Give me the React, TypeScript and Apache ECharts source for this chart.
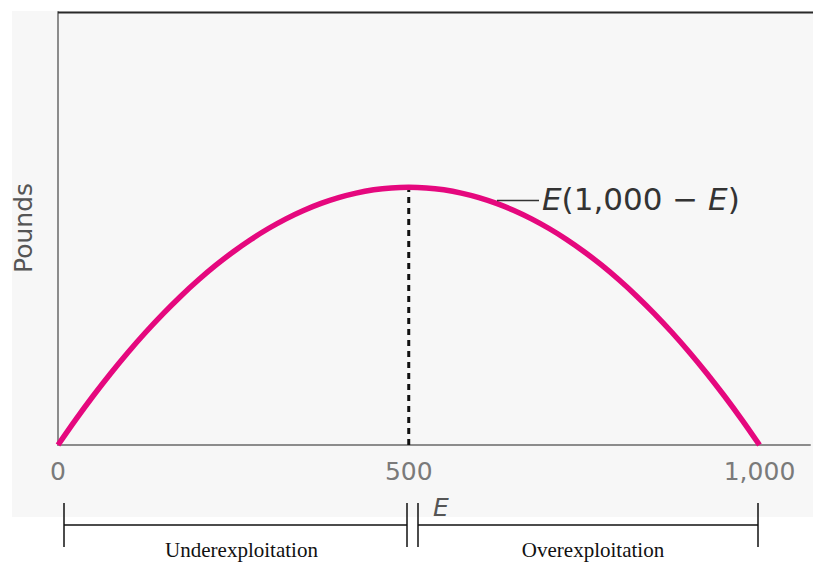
import React, { useEffect, useRef } from "react";
import * as echarts from "echarts";

const effortValues = [0, 25, 50, 75, 100, 125, 150, 175, 200, 225, 250, 275, 300, 325, 350, 375, 400, 425, 450, 475, 500, 525, 550, 575, 600, 625, 650, 675, 700, 725, 750, 775, 800, 825, 850, 875, 900, 925, 950, 975, 1000];
const poundsValues = [0, 24375, 47500, 69375, 90000, 109375, 127500, 144375, 160000, 174375, 187500, 199375, 210000, 219375, 227500, 234375, 240000, 244375, 247500, 249375, 250000, 249375, 247500, 244375, 240000, 234375, 227500, 219375, 210000, 199375, 187500, 174375, 160000, 144375, 127500, 109375, 90000, 69375, 47500, 24375, 0];
const peakEffort = 500;
const peakPounds = 250000;
const tickValues = [0, 500, 1000];
const tickLabels = ["0", "500", "1,000"];
const curveLabel = "{i|E}(1,000 \u2212 {i|E})";
const yAxisTitle = "Pounds";
const xAxisTitle = "E";
const leftBracketText = "Underexploitation";
const rightBracketText = "Overexploitation";

export default function App() {
  const ref = useRef<HTMLDivElement>(null);
  useEffect(() => {
    if (!ref.current) return;
    const chart = echarts.init(ref.current, null, { renderer: "svg" });
    const curve = effortValues.map((e, i) => [e, poundsValues[i]]);
    const black = "#111";
    const option: any = {
      animation: false,
      backgroundColor: "#ffffff",
      grid: { left: 58, top: 12, right: 0, bottom: 117, containLabel: false },
      xAxis: {
        type: "value",
        min: 0,
        max: 1072,
        interval: 500,
        axisLine: { show: true, lineStyle: { color: "#8c8c8c", width: 2 } },
        axisTick: { show: false },
        splitLine: { show: false },
        axisLabel: {
          margin: 14,
          fontSize: 25,
          fontFamily: "DejaVu Sans",
          color: "#7a7a7a",
          formatter: (v: number) => {
            const idx = tickValues.indexOf(v);
            return idx >= 0 ? tickLabels[idx] : "";
          },
        },
      },
      yAxis: {
        type: "value",
        min: 0,
        max: 420000,
        axisLine: { show: true, lineStyle: { color: "#8c8c8c", width: 2 } },
        axisTick: { show: false },
        splitLine: { show: false },
        axisLabel: { show: false },
      },
      series: [
        {
          type: "line",
          data: [[peakEffort, 0], [peakEffort, peakPounds]],
          showSymbol: false,
          lineStyle: { color: black, width: 3, type: [6, 5] },
          z: 1,
        },
        {
          type: "line",
          data: curve,
          smooth: 0.3,
          showSymbol: false,
          lineStyle: { color: "#e5087e", width: 5.5 },
          z: 3,
        },
      ],
      graphic: [
        {
          type: "rect",
          z: -100,
          silent: true,
          shape: { x: 12, y: 11, width: 801, height: 506 },
          style: { fill: "#f7f7f7" },
        },
        {
          type: "line",
          z: 10,
          shape: { x1: 58, y1: 12.5, x2: 813, y2: 12.5 },
          style: { stroke: "#2a2a2a", lineWidth: 2 },
        },
        {
          type: "line",
          z: 10,
          shape: { x1: 497, y1: 200.5, x2: 539, y2: 200.5 },
          style: { stroke: "#333", lineWidth: 1.5 },
        },
        {
          type: "text",
          z: 10,
          x: 542,
          y: 199,
          style: {
            text: curveLabel,
            fontFamily: "DejaVu Sans",
            fontSize: 31,
            fill: "#333",
            align: "left",
            verticalAlign: "middle",
            rich: {
              i: { fontStyle: "italic", fontFamily: "DejaVu Sans", fontSize: 31, fill: "#333" },
            },
          },
        },
        {
          type: "text",
          z: 10,
          x: 23,
          y: 228,
          rotation: Math.PI / 2,
          style: {
            text: yAxisTitle,
            fontFamily: "DejaVu Sans",
            fontSize: 25,
            fill: "#555",
            align: "center",
            verticalAlign: "middle",
          },
        },
        {
          type: "text",
          z: 10,
          x: 441,
          y: 507,
          style: {
            text: xAxisTitle,
            fontFamily: "DejaVu Sans",
            fontStyle: "italic",
            fontSize: 25,
            fill: "#555",
            align: "center",
            verticalAlign: "middle",
          },
        },
        // brackets
        { type: "line", z: 10, shape: { x1: 64, y1: 503, x2: 64, y2: 547 }, style: { stroke: black, lineWidth: 1.5 } },
        { type: "line", z: 10, shape: { x1: 64, y1: 525, x2: 407, y2: 525 }, style: { stroke: black, lineWidth: 1.5 } },
        { type: "line", z: 10, shape: { x1: 407, y1: 503, x2: 407, y2: 547 }, style: { stroke: black, lineWidth: 1.5 } },
        { type: "line", z: 10, shape: { x1: 418, y1: 503, x2: 418, y2: 547 }, style: { stroke: black, lineWidth: 1.5 } },
        { type: "line", z: 10, shape: { x1: 418, y1: 525, x2: 758, y2: 525 }, style: { stroke: black, lineWidth: 1.5 } },
        { type: "line", z: 10, shape: { x1: 758, y1: 503, x2: 758, y2: 547 }, style: { stroke: black, lineWidth: 1.5 } },
        {
          type: "text",
          z: 10,
          x: 241.5,
          y: 550,
          style: {
            text: leftBracketText,
            fontFamily: "Liberation Serif",
            fontSize: 21,
            fill: "#111",
            align: "center",
            verticalAlign: "middle",
          },
        },
        {
          type: "text",
          z: 10,
          x: 593,
          y: 550,
          style: {
            text: rightBracketText,
            fontFamily: "Liberation Serif",
            fontSize: 21,
            fill: "#111",
            align: "center",
            verticalAlign: "middle",
          },
        },
      ],
    };
    chart.setOption(option);
    return () => chart.dispose();
  }, []);
  return (
    <div
      ref={ref}
      style={{ position: "fixed", left: 0, top: 0, width: 813, height: 562 }}
    />
  );
}
